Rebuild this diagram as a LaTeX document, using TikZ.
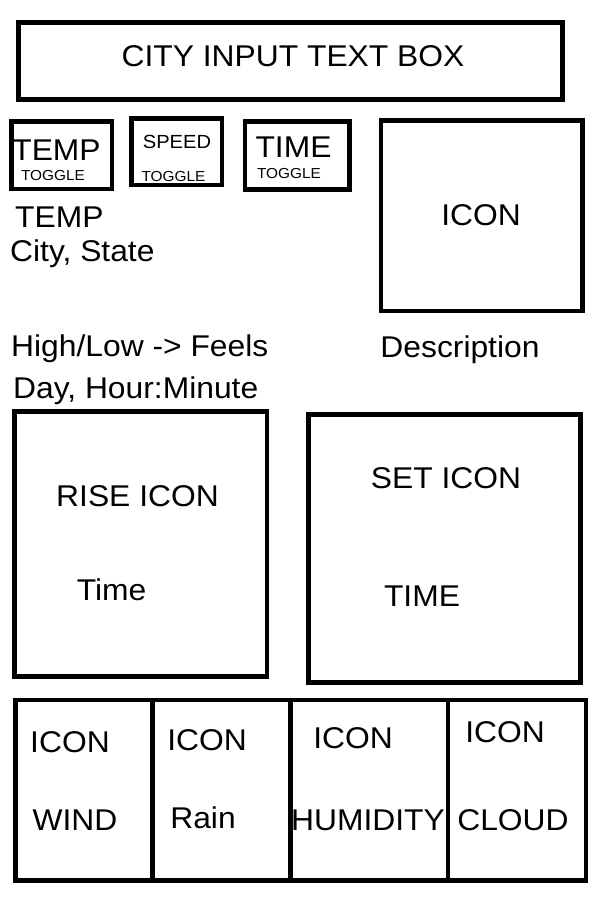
\documentclass[tikz,border=0pt]{standalone}
\usepackage{fontspec}
\setmainfont[FakeStretch=1.06]{Liberation Sans}
\begin{document}
\begin{tikzpicture}[x=1pt,y=-1pt,
  box/.style={draw=black, line width=4.6pt, inner sep=0pt, fill=none},
  big/.style={inner sep=0pt, anchor=base, font=\fontsize{30}{30}\selectfont},
  mid/.style={inner sep=0pt, anchor=base, font=\fontsize{19}{19}\selectfont},
  tiny/.style={inner sep=0pt, anchor=base, font=\fontsize{14.5}{14.5}\selectfont},
  lbl/.style={inner sep=0pt, anchor=base west, font=\fontsize{30}{30}\selectfont}]
\useasboundingbox[fill=white] (0,0) rectangle (600,900);
% boxes
\node[box, minimum width=544pt, minimum height=77pt] (city) at (290.5,61) {};
\node[box, minimum width=100.5pt, minimum height=67.5pt] (ttemp) at (61.75,155.25) {};
\node[box, minimum width=90.5pt, minimum height=66.5pt] (tspeed) at (176.75,151.75) {};
\node[box, minimum width=104.5pt, minimum height=68pt] (ttime) at (297.25,155.5) {};
\node[box, minimum width=201.5pt, minimum height=190.5pt] (icon) at (481.75,215.75) {};
\node[box, minimum width=252.5pt, minimum height=265pt] (rise) at (140.75,544) {};
\node[box, minimum width=272pt, minimum height=268pt] (set) at (444.5,548.5) {};
\node[box, minimum width=137pt, minimum height=180.5pt] (cwind) at (84,790.25) {};
\node[box, minimum width=138pt, minimum height=180.5pt] (crain) at (221.5,790.25) {};
\node[box, minimum width=157.5pt, minimum height=180.5pt] (chum) at (369.25,790.25) {};
\node[box, minimum width=138pt, minimum height=180.5pt] (ccloud) at (517,790.25) {};
% texts
\node[big] (tcity) at (293,66) {CITY INPUT TEXT BOX};
\node[big] (xtemp) at (56.5,160) {TEMP};
\node[tiny] (xtg1) at (53,180) {TOGGLE};
\node[mid] (xspeed) at (177,148) {SPEED};
\node[tiny] (xtg2) at (173.5,181) {TOGGLE};
\node[big] (xtime) at (293.5,157) {TIME};
\node[tiny] (xtg3) at (289,178) {TOGGLE};
\node[big] (xicon) at (481,225) {ICON};
\node[big] (xdesc) at (460,357) {Description};
\node[lbl] (xtemp2) at (15,227) {TEMP};
\node[lbl] (xcity) at (10,261) {City, State};
\node[lbl] (xhl) at (11,356) {High/Low -> Feels};
\node[lbl] (xday) at (13,398) {Day, Hour:Minute};
\node[big] (xrise) at (137.5,506) {RISE ICON};
\node[big] (xrtime) at (111.5,600) {Time};
\node[big] (xset) at (446,488) {SET ICON};
\node[big] (xstime) at (422,606) {TIME};
\node[big] (xi1) at (70,752) {ICON};
\node[big] (xwind) at (75,830) {WIND};
\node[big] (xi2) at (207,750) {ICON};
\node[big] (xrain) at (203,828) {Rain};
\node[big] (xi3) at (353,748) {ICON};
\node[big] (xhum) at (368,830) {HUMIDITY};
\node[big] (xi4) at (505,742) {ICON};
\node[big] (xcloud) at (513,830) {CLOUD};
\end{tikzpicture}
\end{document}
